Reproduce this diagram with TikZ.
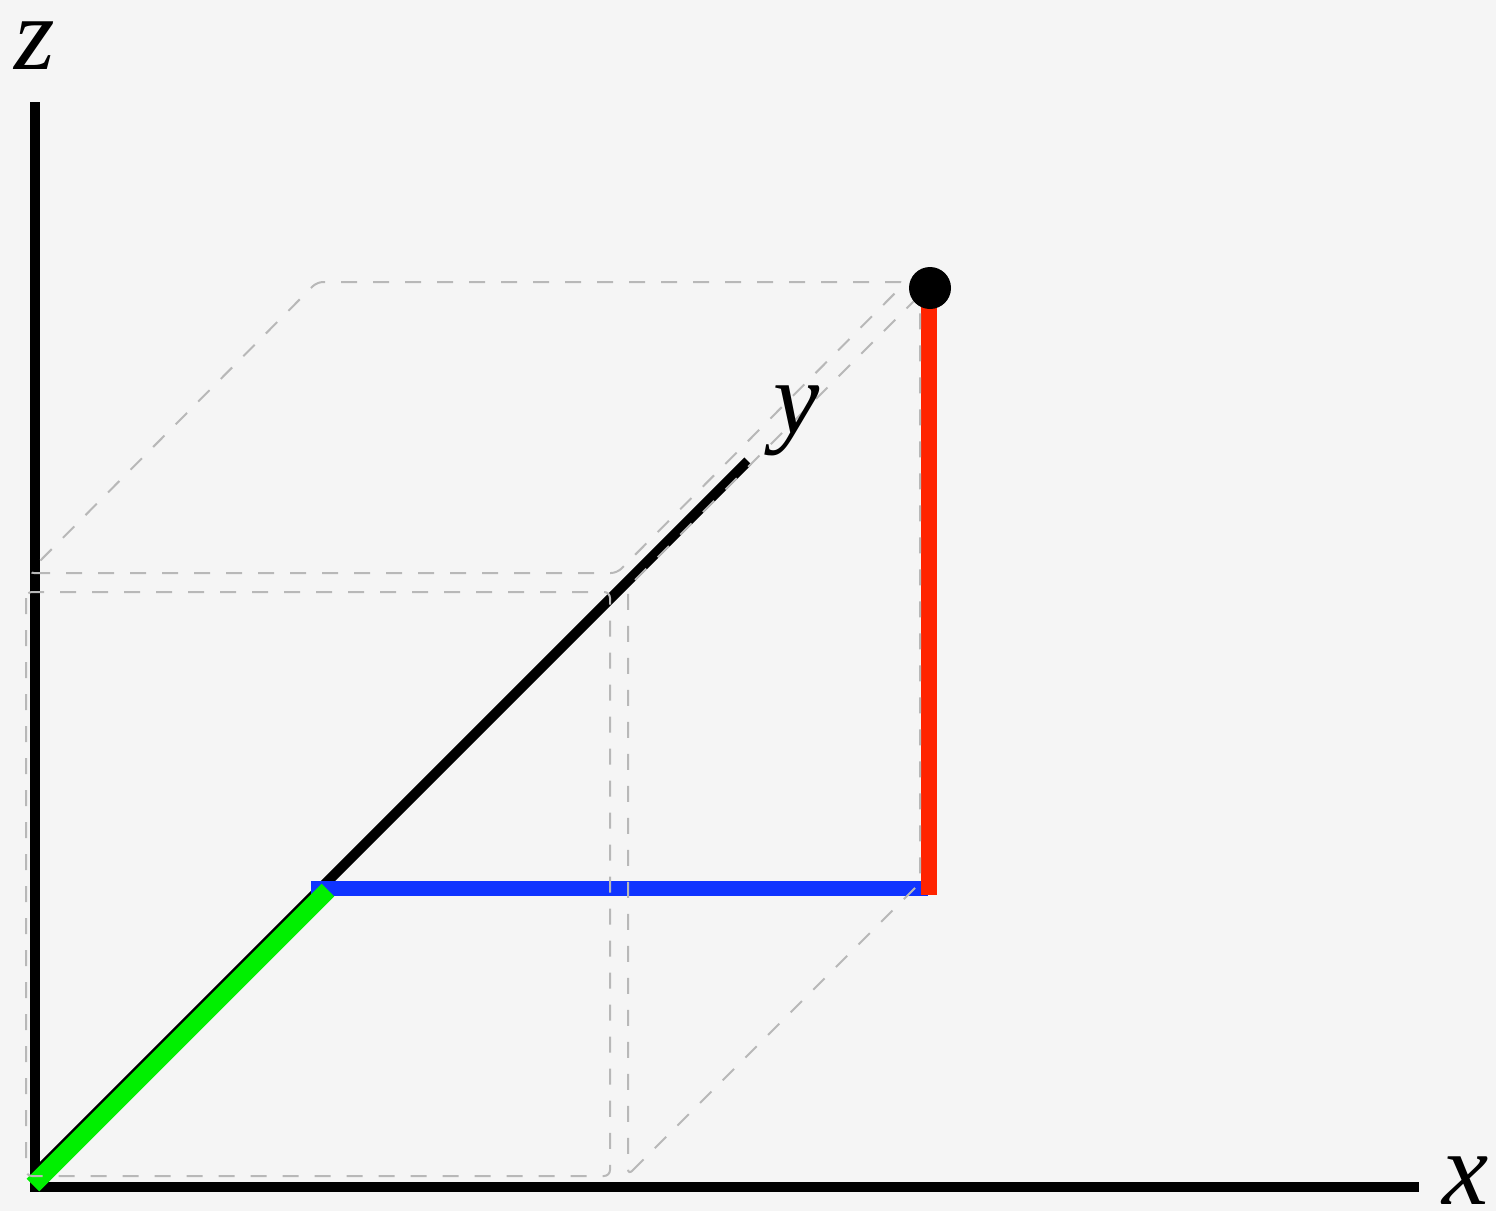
\documentclass[tikz,border=0pt]{standalone}
\usepackage{fontspec}
\setmainfont{Liberation Serif}
\definecolor{bg}{RGB}{245,245,245}
\definecolor{guidegray}{RGB}{184,184,184}
\definecolor{vgreen}{RGB}{0,240,0}
\definecolor{vblue}{RGB}{16,52,255}
\definecolor{vred}{RGB}{255,36,0}
\begin{document}
\begin{tikzpicture}[x=1pt,y=-1pt,
  axis/.style={line width=10pt, black},
  guide/.style={draw=guidegray, line width=2pt, dash pattern=on 16pt off 16pt, rounded corners=6pt},
  comp/.style={line width=16pt},
  lbl/.style={font=\fontsize{104}{104}\selectfont\itshape, inner sep=0pt, anchor=base}]
\fill[bg] (0,0) rectangle (1496,1211);
\useasboundingbox (0,0) rectangle (1496,1211);
% axis end points
\coordinate (O) at (35,1187);
\coordinate (Ztop) at (35,102);
\coordinate (Zbot) at (35,1192);
\coordinate (Xl) at (30,1187);
\coordinate (Xr) at (1419,1187);
\coordinate (Ys) at (35,1174);
\coordinate (Ye) at (748,461);
% vector components
\coordinate (Gs) at (33,1185);
\coordinate (Ge) at (328,890);
\coordinate (Bs) at (311,888);
\coordinate (Be) at (928,888);
\coordinate (Rs) at (929,895);
\coordinate (Re) at (929,290);
% axes
\draw[axis] (Ztop) -- (Zbot);
\draw[axis] (Xl) -- (Xr);
\draw[axis] (Ys) -- (Ye);
% components
\draw[comp, draw=vblue, line width=15pt] (Bs) -- (Be);
\draw[comp, draw=vgreen, line width=18pt] (Gs) -- (Ge);
\draw[comp, draw=vred] (Rs) -- (Re);
% guide faces
\draw[guide] (26,592) rectangle (610,1176);
\draw[guide] (628,1175) -- (920,883) -- (920,295) -- (628,587) -- cycle;
\draw[guide] (28,573) -- (617,573) -- (906,282) -- (317,282) -- cycle;
% point
\node[circle, fill=black, minimum size=42pt, inner sep=0pt] (P) at (930,288) {};
% labels
\node[lbl] (zl) at (35,69) {z};
\node[lbl] (xl) at (1466,1204) {x};
\node[lbl] (yl) at (797,433) {y};
\end{tikzpicture}
\end{document}
